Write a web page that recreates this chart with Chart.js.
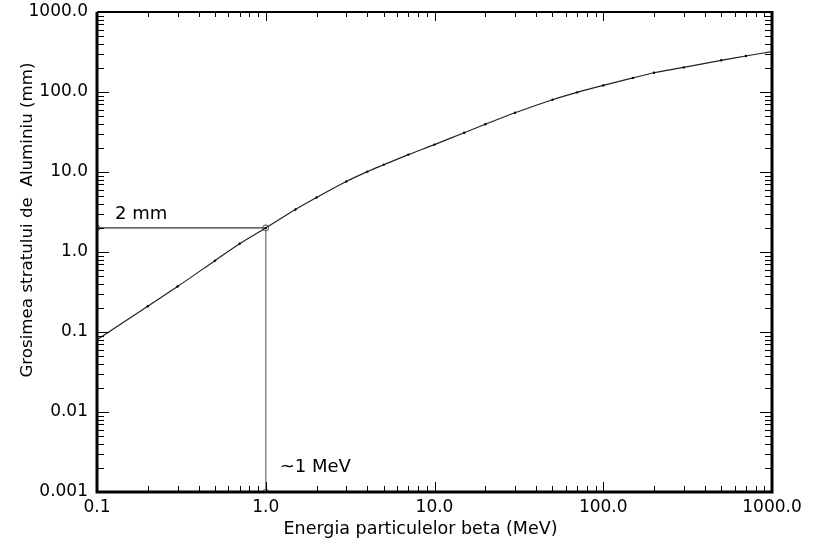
<!DOCTYPE html>
<html>
<head>
<meta charset="utf-8">
<script src="https://cdn.jsdelivr.net/npm/chart.js@4/dist/chart.umd.min.js"></script>
<style>
html,body{margin:0;padding:0;background:#fff;}
#wrap{width:815px;height:546px;position:relative;}
</style>
</head>
<body>
<div id="wrap"><canvas id="c" width="815" height="546"></canvas></div>
<script>
// ---- data ----
const energyMeV = [0.1, 0.2, 0.3, 0.5, 0.7, 1, 1.5, 2, 3, 4, 5, 7, 10, 15, 20, 30, 50, 70, 100, 150, 200, 300, 500, 700, 1000];
const thicknessMm = [0.08, 0.21, 0.37, 0.78, 1.27, 2.0, 3.4, 4.8, 7.6, 10.1, 12.3, 16.5, 22, 31, 39.5, 55, 80, 99, 121, 150, 174, 203, 249, 282, 320];
const markX = [0.1, 1, 1];
const markY = [2, 2, 0.001];
const xTickValues = [0.1, 1, 10, 100, 1000];
const xTickLabels = ['0.1', '1.0', '10.0', '100.0', '1000.0'];
const yTickValues = [0.001, 0.01, 0.1, 1, 10, 100, 1000];
const yTickLabels = ['0.001', '0.01', '0.1', '1.0', '10.0', '100.0', '1000.0'];
const xTitle = 'Energia particulelor beta (MeV)';
const yTitle = 'Grosimea stratului de  Aluminiu (mm)';
const label2mm = '2 mm';
const label1MeV = '~1 MeV';

const FONT = '"DejaVu Sans", sans-serif';

function isNear(v, arr){ return arr.findIndex(a => Math.abs(Math.log10(v) - Math.log10(a)) < 1e-6); }

const framePlugin = {
  id: 'frame',
  afterDraw(chart){
    const ctx = chart.ctx, a = chart.chartArea;
    const xs = chart.scales.x, ys = chart.scales.y;
    ctx.save();
    ctx.strokeStyle = '#000';
    ctx.lineWidth = 1;
    for (let k = -3; k <= 2; k++) {
      for (let m = 1; m <= 9; m++) {
        const v = m * Math.pow(10, k);
        const py = Math.round(ys.getPixelForValue(v)) + 0.5;
        const len = m === 1 ? 12 : 7;
        ctx.beginPath();
        ctx.moveTo(a.left, py); ctx.lineTo(a.left + len, py);
        ctx.moveTo(a.right, py); ctx.lineTo(a.right - len, py);
        ctx.stroke();
      }
    }
    for (let k = -1; k <= 2; k++) {
      for (let m = 1; m <= 9; m++) {
        const v = m * Math.pow(10, k);
        const px = Math.round(xs.getPixelForValue(v)) + 0.5;
        const len = m === 1 ? 10 : 6;
        ctx.beginPath();
        ctx.moveTo(px, a.bottom); ctx.lineTo(px, a.bottom - len);
        ctx.moveTo(px, a.top); ctx.lineTo(px, a.top + len - 1);
        ctx.stroke();
      }
    }
    ctx.lineWidth = 3;
    ctx.beginPath();
    ctx.moveTo(a.left, a.top); ctx.lineTo(a.left, a.bottom + 1.5);
    ctx.moveTo(a.left - 1.5, a.bottom); ctx.lineTo(a.right + 1.5, a.bottom);
    ctx.moveTo(a.right, a.bottom); ctx.lineTo(a.right, a.top - 1);
    ctx.stroke();
    ctx.lineWidth = 2;
    ctx.beginPath();
    ctx.moveTo(a.left, a.top); ctx.lineTo(a.right, a.top);
    ctx.stroke();
    ctx.fillStyle = '#000';
    ctx.font = '18px ' + FONT;
    ctx.textBaseline = 'middle';
    ctx.textAlign = 'left';
    ctx.fillText(label2mm, xs.getPixelForValue(0.1) + 18, ys.getPixelForValue(2) - 14);
    ctx.fillText(label1MeV, xs.getPixelForValue(1) + 14, a.bottom - 25);
    ctx.font = '17.5px ' + FONT;
    ctx.textAlign = 'center';
    ctx.fillText(xTitle, (a.left + a.right) / 2 - 14, 529);
    ctx.font = '16.7px ' + FONT;
    ctx.translate(28, 220);
    ctx.rotate(-Math.PI / 2);
    ctx.fillText(yTitle, 0, 0);
    ctx.restore();
  }
};

new Chart(document.getElementById('c'), {
  type: 'line',
  data: {
    datasets: [
      {
        data: energyMeV.map((x, i) => ({x, y: thicknessMm[i]})),
        borderColor: '#222', borderWidth: 1.2,
        pointRadius: 1.2, pointBackgroundColor: '#000', pointBorderWidth: 0,
        tension: 0.3, fill: false
      },
      {
        data: [{x: markX[0], y: markY[0]}, {x: markX[1], y: markY[1]}],
        borderColor: '#000', borderWidth: 1,
        pointRadius: 3, pointBackgroundColor: 'rgba(0,0,0,0)', pointBorderColor: '#777', pointBorderWidth: 1,
        fill: false
      },
      {
        data: [{x: markX[1], y: markY[1]}, {x: markX[2], y: markY[2]}],
        borderColor: '#888', borderWidth: 1.5,
        pointRadius: 3, pointBackgroundColor: 'rgba(0,0,0,0)', pointBorderColor: '#777', pointBorderWidth: 1,
        fill: false
      }
    ]
  },
  options: {
    responsive: false,
    animation: false,
    events: [],
    layout: {padding: {left: 0, right: 43, top: 12, bottom: 0}},
    plugins: {legend: {display: false}, tooltip: {enabled: false}},
    scales: {
      x: {
        type: 'logarithmic', min: 0.1, max: 1000,
        border: {display: false},
        grid: {display: false, drawTicks: false},
        afterFit(s){ s.height = 54; s.paddingLeft = 0; s.paddingRight = 0; },
        afterBuildTicks(s){ s.ticks = xTickValues.map(v => ({value: v})); },
        ticks: {
          autoSkip: false, maxRotation: 0, padding: 5, color: '#000',
          font: {family: FONT, size: 17},
          callback(v){ const i = isNear(v, xTickValues); return i >= 0 ? xTickLabels[i] : ''; }
        }
      },
      y: {
        type: 'logarithmic', min: 0.001, max: 1000,
        border: {display: false},
        grid: {display: false, drawTicks: false},
        afterFit(s){ s.width = 97; s.paddingTop = 0; s.paddingBottom = 0; },
        afterBuildTicks(s){ s.ticks = yTickValues.map(v => ({value: v})); },
        ticks: {
          autoSkip: false, padding: 9, color: '#000',
          font: {family: FONT, size: 17},
          callback(v){ const i = isNear(v, yTickValues); return i >= 0 ? yTickLabels[i] : ''; }
        }
      }
    }
  },
  plugins: [framePlugin]
});
</script>
</body>
</html>
